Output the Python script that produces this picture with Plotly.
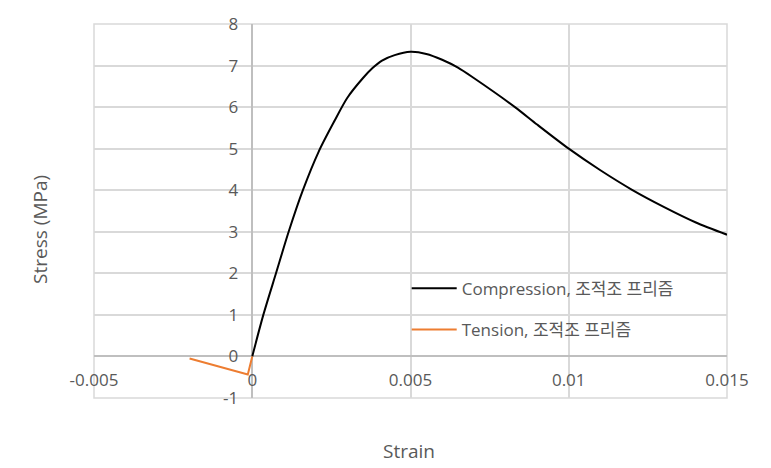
import plotly.graph_objects as go

# Data
comp_strain = [0, 0.00035, 0.00075, 0.00115, 0.0016, 0.0021, 0.0026, 0.003, 0.0035,
               0.0038, 0.0041, 0.0045, 0.005, 0.0055, 0.006, 0.0065, 0.007, 0.0083,
               0.009, 0.01, 0.011, 0.012, 0.013, 0.014, 0.015]
comp_stress = [0, 1.0, 2.0, 3.0, 4.0, 4.93, 5.67, 6.22, 6.7,
               6.94, 7.12, 7.25, 7.33, 7.28, 7.14, 6.95, 6.7, 6.0,
               5.58, 5.0, 4.48, 4.01, 3.6, 3.23, 2.93]
ten_strain = [0, -0.00014, -0.00198]
ten_stress = [0, -0.435, -0.05]

x_ticks = [-0.005, 0, 0.005, 0.01, 0.015]
x_labels = ["-0.005", "0", "0.005", "0.01", "0.015"]
y_ticks = list(range(-1, 9))
y_labels = [str(v) for v in y_ticks]

FONT = "Open Sans, Noto Sans, Noto Sans CJK KR, sans-serif"
GREY = "#595959"
GRID = "#d9d9d9"

fig = go.Figure()
fig.add_trace(go.Scatter(x=comp_strain, y=comp_stress, mode="lines",
                         line=dict(color="black", width=2, shape="spline", smoothing=0.8),
                         name="Compression, 조적조 프리즘", legend="legend"))
fig.add_trace(go.Scatter(x=ten_strain, y=ten_stress, mode="lines",
                         line=dict(color="#ED7D31", width=2),
                         name="Tension, 조적조 프리즘", legend="legend2"))

xr = [-0.005, 0.015]
yr = [-1, 8]
fig.update_layout(
    width=771, height=468,
    margin=dict(l=94, r=44, t=18, b=70),
    paper_bgcolor="white", plot_bgcolor="white",
    showlegend=True,
    font=dict(family=FONT, size=17, color=GREY),
    xaxis=dict(range=xr, tickvals=x_ticks, ticktext=x_labels,
               showgrid=True, gridcolor=GRID, gridwidth=1.5,
               zeroline=True, zerolinecolor="#bfbfbf", zerolinewidth=2,
               anchor="free", position=(0 - yr[0]) / (yr[1] - yr[0]),
               ticks="", ticklabelstandoff=12, showline=False, fixedrange=True,
               tickfont=dict(size=17, color=GREY, family=FONT)),
    yaxis=dict(range=yr, tickvals=y_ticks, ticktext=y_labels,
               showgrid=True, gridcolor=GRID, gridwidth=1.5,
               zeroline=True, zerolinecolor="#bfbfbf", zerolinewidth=2,
               anchor="free", position=(0 - xr[0]) / (xr[1] - xr[0]),
               ticks="", ticklabelstandoff=14, showline=False, fixedrange=True,
               tickfont=dict(size=17, color=GREY, family=FONT)),
    legend=dict(x=0.494, y=0.292, xanchor="left", yanchor="middle", itemwidth=45,
                bgcolor="rgba(0,0,0,0)", font=dict(size=17, color=GREY, family=FONT)),
    legend2=dict(x=0.494, y=0.182, xanchor="left", yanchor="middle", itemwidth=45,
                 bgcolor="rgba(0,0,0,0)", font=dict(size=17, color=GREY, family=FONT)),
    shapes=[dict(type="rect", xref="paper", yref="paper", x0=0, y0=0, x1=1, y1=1,
                 line=dict(color=GRID, width=1.5), layer="below")],
    annotations=[
        dict(text="Stress (MPa)", xref="paper", yref="paper", x=-0.085, y=0.45,
             xanchor="center", yanchor="middle", textangle=-90, showarrow=False,
             font=dict(size=19, color=GREY, family=FONT)),
        dict(text="Strain", xref="paper", yref="paper", x=0.498, y=-0.143,
             xanchor="center", yanchor="middle", showarrow=False,
             font=dict(size=19, color=GREY, family=FONT)),
    ],
)

fig.write_html("out.html")
